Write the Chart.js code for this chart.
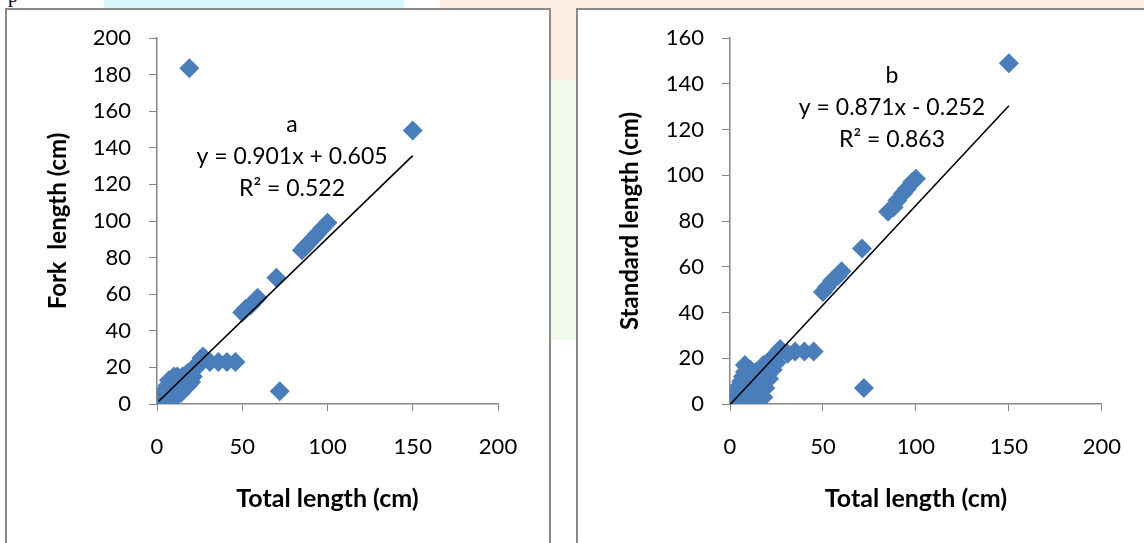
<!DOCTYPE html>
<html lang="en">
<head>
  <meta charset="UTF-8" />
  <title>Length relationships</title>
  <script src="https://cdn.jsdelivr.net/npm/chart.js"></script>
  <style>
    body { margin: 0; width: 1144px; height: 543px; overflow: hidden; background: #fff; position: relative; font-family: Lato, sans-serif; }
    .patch { position: absolute; }
    .box { position: absolute; border: 2px solid #8a8a8a; background: #fff; box-sizing: border-box; }
    canvas { position: absolute; }
    .frag { position: absolute; left: 8px; top: -16px; font: 20px 'Liberation Serif', serif; }
  </style>
</head>
<body>
  <div class="patch" style="left:104px;top:0;width:300px;height:12px;background:#d9f6fb"></div>
  <div class="patch" style="left:440px;top:0;width:704px;height:12px;background:#fdece2"></div>
  <div class="patch" style="left:545px;top:0;width:36px;height:80px;background:#fdece2"></div>
  <div class="patch" style="left:545px;top:80px;width:36px;height:260px;background:#f1f8ec"></div>
  <div class="frag">p</div>
  <div class="box" style="left:5px;top:8px;width:546px;height:560px"></div>
  <div class="box" style="left:576px;top:8px;width:600px;height:560px"></div>
  <canvas id="chartA" width="540" height="532" style="left:8px;top:11px"></canvas>
  <canvas id="chartB" width="565" height="532" style="left:579px;top:11px"></canvas>

  <script>
    // chart a: total length vs fork length
    const aTotal = [0, 1, 2, 3, 4, 5, 5, 6, 6, 7, 7, 8, 8, 9, 9, 10, 10, 10, 11, 12, 12, 12, 13, 14, 14, 15, 15, 16, 16, 17, 17, 18, 18, 19, 20, 20, 21, 22, 23, 24, 25, 26, 27,
      31, 36, 41, 46, 50, 52, 55, 57, 59, 70, 85, 87, 89, 92, 94, 97, 100, 150, 19, 72];
    const aFork = [1, 2, 2, 4, 3, 5, 8, 4, 10, 6, 13, 5, 9, 14, 7, 4, 11, 15, 8, 5, 12, 15, 9, 6, 13, 10, 15, 8, 14, 11, 16, 10, 17, 13, 12, 18, 15, 19, 20, 22, 23, 25, 26,
      23, 23, 23, 23, 50, 52, 54, 56, 58, 69, 84, 86, 88, 91, 93, 96, 99, 149.5, 183.5, 7];

    // chart b: total length vs standard length
    const bTotal = [0, 2, 3, 4, 5, 5, 6, 6, 7, 7, 8, 8, 8, 8, 9, 9, 9, 10, 10, 10, 11, 11, 12, 12, 12, 13, 13, 14, 14, 15, 15, 15, 16, 16, 17, 17, 18, 18, 18, 19, 19, 20, 20, 21, 21, 22, 23, 23, 24, 25, 25, 26, 27,
      31, 35, 40, 45, 50, 52, 55, 58, 60, 71, 85, 88, 90, 93, 95, 98, 100, 150, 72];
    const bStandard = [0, 2, 4, 6, 3, 8, 5, 10, 7, 12, 17, 2, 9, 14, 1, 5, 11, 3, 8, 13, 6, 15, 1, 2, 10, 4, 12, 8, 14, 2, 3, 11, 6, 15, 9, 16, 3, 12, 17, 7, 14, 16, 18, 11, 17, 19, 15, 20, 21, 18, 22, 23, 24,
      22, 23, 23, 23, 49, 51, 54, 56, 58, 68, 84, 86, 89, 92, 94, 97, 98.5, 149, 7];

    const xTicks = [0, 50, 100, 150, 200];
    const aTicks = [0, 20, 40, 60, 80, 100, 120, 140, 160, 180, 200];
    const bTicks = [0, 20, 40, 60, 80, 100, 120, 140, 160];

    const aFit = { slope: 0.901, intercept: 0.605, from: 1, to: 150 };
    const bFit = { slope: 0.871, intercept: -0.252, from: 0, to: 150 };
    const aLabels = ['a', 'y = 0.901x + 0.605', 'R² = 0.522'];
    const bLabels = ['b', 'y = 0.871x - 0.252', 'R² = 0.863'];

    const blue = '#4A7EBB';
    const axisGrey = '#868686';
    const tickFont = { family: 'Lato', size: 22 };
    const xTitleFont = { family: 'Lato', size: 25, weight: 'bold' };
    const yTitleFont = { family: 'Lato', size: 24, weight: 'bold' };

    const eqText = {
      id: 'eqText',
      afterDatasetsDraw(chart, args, opts) {
        const { ctx, chartArea } = chart;
        ctx.save();
        ctx.font = '23px Lato';
        ctx.fillStyle = '#000';
        ctx.textAlign = 'center';
        ctx.textBaseline = 'middle';
        opts.lines.forEach((t, i) => ctx.fillText(t, chartArea.left + opts.x, chartArea.top + opts.y + i * opts.gap));
        ctx.restore();
      }
    };

    function makeChart(id, xs, ys, fit, yTicks, yTitle, lines, lay) {
      const pts = xs.map((x, i) => ({ x, y: ys[i] }));
      const line = [fit.from, fit.to].map(x => ({ x, y: fit.slope * x + fit.intercept }));
      return new Chart(document.getElementById(id), {
        type: 'scatter',
        data: {
          datasets: [
            { data: line, showLine: true, borderColor: '#000', borderWidth: 1.6, pointRadius: 0, order: 0 },
            { data: pts, pointStyle: 'rectRot', pointRadius: 10, pointHoverRadius: 10,
              backgroundColor: blue, borderColor: blue, borderWidth: 0, order: 1 }
          ]
        },
        plugins: [eqText],
        options: {
          responsive: false,
          animation: false,
          events: [],
          layout: { padding: lay.padding },
          plugins: {
            legend: { display: false },
            tooltip: { enabled: false },
            eqText: { lines, x: lay.textX, y: lay.textY, gap: 32 }
          },
          scales: {
            x: {
              type: 'linear', min: 0, max: 200,
              afterBuildTicks: s => { s.ticks = xTicks.map(v => ({ value: v })); },
              afterFit: s => { s.height = lay.xHeight; },
              grid: { drawOnChartArea: false, tickLength: 7, tickColor: axisGrey },
              border: { color: axisGrey, width: 1.5 },
              ticks: { color: '#000', font: tickFont, padding: lay.xPad, maxRotation: 0 },
              title: { display: true, text: 'Total length (cm)', color: '#000', font: xTitleFont, padding: 0 }
            },
            y: {
              type: 'linear', min: 0, max: yTicks[yTicks.length - 1],
              afterBuildTicks: s => { s.ticks = yTicks.map(v => ({ value: v })); },
              afterFit: s => { s.width = lay.yWidth; s.paddingTop = 0; s.paddingBottom = 0; },
              grid: { drawOnChartArea: false, tickLength: 8, tickColor: axisGrey },
              border: { color: axisGrey, width: 1.5 },
              ticks: { color: '#000', font: tickFont, padding: 18 },
              title: { display: true, text: yTitle, color: '#000', font: yTitleFont, padding: 0 }
            }
          }
        }
      });
    }

    makeChart('chartA', aTotal, aFork, aFit, aTicks, 'Fork  length (cm)', aLabels,
      { padding: { left: 36, top: 27, right: 50, bottom: 29 }, xHeight: 110, yWidth: 113, xPad: 23, textX: 135, textY: 87 });
    makeChart('chartB', bTotal, bStandard, bFit, bTicks, 'Standard length (cm)', bLabels,
      { padding: { left: 37, top: 27, right: 38, bottom: 29 }, xHeight: 110, yWidth: 114, xPad: 23, textX: 162, textY: 38 });
  </script>
</body>
</html>
